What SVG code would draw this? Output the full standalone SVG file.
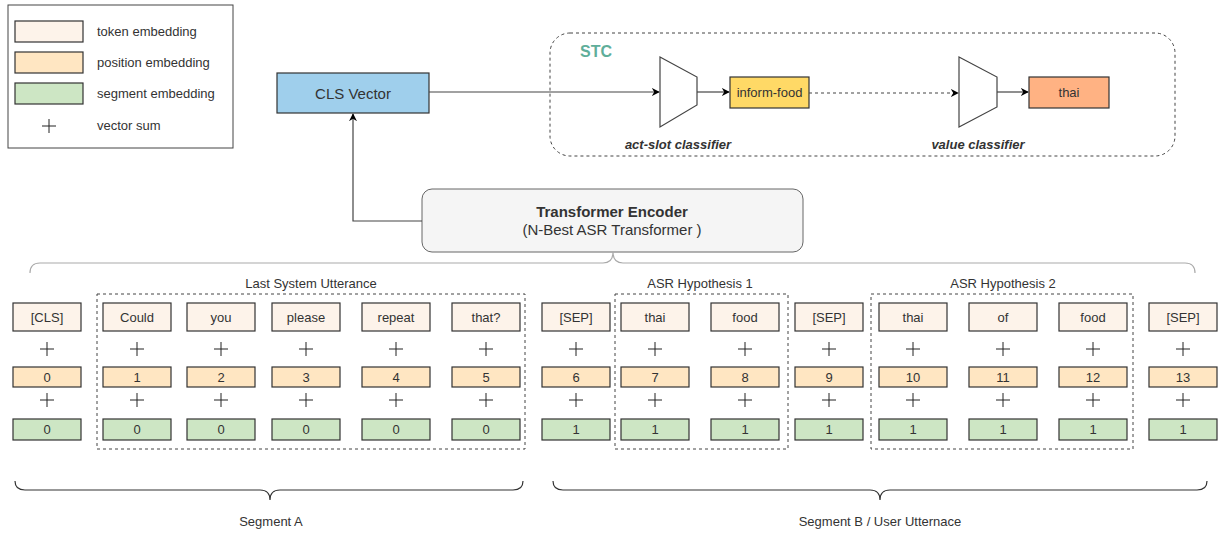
<svg xmlns="http://www.w3.org/2000/svg" width="1218" height="533" viewBox="0 0 1218 533">
<defs>
<marker id="arr" viewBox="0 0 10 10" refX="9" refY="5" markerWidth="8" markerHeight="8" orient="auto" markerUnits="userSpaceOnUse">
<path d="M0,0 L10,5 L0,10 L3,5 Z" fill="#000"/>
</marker>
<style>
text{font-family:"Liberation Sans",Arial,sans-serif;fill:#333;}
.t{font-size:13px;text-anchor:middle;}
.lg{font-size:13px;}
.tok{fill:#fdf3ea;stroke:#333;stroke-width:1.2;}
.pos{fill:#ffe6c2;stroke:#333;stroke-width:1.2;}
.seg{fill:#cde6c4;stroke:#333;stroke-width:1.2;}
.plus{stroke:#222;stroke-width:1;fill:none;}
.grp{fill:none;stroke:#444;stroke-width:1;stroke-dasharray:3,3;}
.conn{fill:none;stroke:#444;stroke-width:1.2;}
</style>
</defs>
<rect width="1218" height="533" fill="#fff"/>

<g id="legend">
<rect x="8" y="5" width="225" height="143" fill="#fff" stroke="#444" stroke-width="1"/>
<rect x="15" y="21" width="68" height="21" class="tok"/>
<rect x="15" y="52" width="68" height="21" class="pos"/>
<rect x="15" y="83" width="68" height="21" class="seg"/>
<path class="plus" d="M42,126 H56 M49,119 V133"/>
<text x="97" y="36" class="lg">token embedding</text>
<text x="97" y="67" class="lg">position embedding</text>
<text x="97" y="98" class="lg">segment embedding</text>
<text x="97" y="130" class="lg">vector sum</text>
</g>

<g id="stc">
<rect x="550" y="33" width="625" height="123" rx="20" ry="20" class="grp"/>
<text x="596" y="57" style="font-size:16px;font-weight:bold;fill:#5fae9a;text-anchor:middle">STC</text>
</g>

<g id="cls-vector">
<rect x="277" y="73" width="152" height="40" fill="#9fcfec" stroke="#333" stroke-width="1.2"/>
<text x="353" y="99" style="font-size:15px;text-anchor:middle">CLS Vector</text>
</g>

<g id="act-slot-classifier">
<polygon points="660,57 697,77 697,105 660,127" fill="#fff" stroke="#444" stroke-width="1.2"/>
<text x="678" y="149" style="font-size:13px;font-weight:bold;font-style:italic;text-anchor:middle">act-slot classifier</text>
</g>

<g id="inform-food">
<rect x="730" y="77" width="79" height="31" fill="#ffd966" stroke="#333" stroke-width="1.2"/>
<text x="769.5" y="97" class="t">inform-food</text>
</g>

<g id="value-classifier">
<polygon points="959,57 997,77 997,107 959,127" fill="#fff" stroke="#444" stroke-width="1.2"/>
<text x="978" y="149" style="font-size:13px;font-weight:bold;font-style:italic;text-anchor:middle">value classifier</text>
</g>

<g id="thai-out">
<rect x="1029" y="77" width="80" height="31" fill="#ffb283" stroke="#333" stroke-width="1.2"/>
<text x="1069" y="97" class="t">thai</text>
</g>

<g id="transformer-encoder">
<rect x="422" y="189" width="381" height="63" rx="10" ry="10" fill="#f5f5f5" stroke="#666" stroke-width="1"/>
<text x="612" y="217" style="font-size:15px;font-weight:bold;text-anchor:middle">Transformer Encoder</text>
<text x="612" y="235" style="font-size:15px;text-anchor:middle">(N-Best ASR Transformer )</text>
</g>

<g id="connectors">
<path class="conn" d="M429,92 H659" marker-end="url(#arr)"/>
<path class="conn" d="M697,92 H729" marker-end="url(#arr)"/>
<path class="conn" d="M809,93 H958" stroke-dasharray="3,3" marker-end="url(#arr)"/>
<path class="conn" d="M997,92 H1028" marker-end="url(#arr)"/>
<path class="conn" d="M422,221 H353 V114" marker-end="url(#arr)"/>
</g>

<g id="braces">
<path d="M30,273 Q30,263 40,263 L603,263 Q613,263 613,252 Q613,263 623,263 L1185,263 Q1195,263 1195,273" fill="none" stroke="#aaa" stroke-width="1.2"/>
<path d="M15,481 Q15,490 25,490 L260,490 Q270,490 270,500 Q270,490 280,490 L513,490 Q523,490 523,481" fill="none" stroke="#333" stroke-width="1.2"/>
<path d="M553,481 Q553,490 563,490 L870,490 Q880,490 880,500 Q880,490 890,490 L1197,490 Q1207,490 1207,481" fill="none" stroke="#333" stroke-width="1.2"/>
<text x="271" y="526" class="t">Segment A</text>
<text x="880" y="526" class="t">Segment B / User Utternace</text>
</g>

<g id="last-system-utterance">
<rect x="97" y="294" width="428" height="155" class="grp"/>
<text x="311" y="288" class="t">Last System Utterance</text>
</g>
<g id="asr-hyp-1">
<rect x="615" y="294" width="173" height="155" class="grp"/>
<text x="700" y="288" class="t">ASR Hypothesis 1</text>
</g>
<g id="asr-hyp-2">
<rect x="871" y="294" width="262" height="155" class="grp"/>
<text x="1003" y="288" class="t">ASR Hypothesis 2</text>
</g>

<g id="col-0"><rect x="13" y="303" width="68" height="28" class="tok"/><text x="47" y="322" class="t">[CLS]</text><path class="plus" d="M40,349 H54 M47,342 V356"/><rect x="13" y="367" width="68" height="20" class="pos"/><text x="47" y="382" class="t">0</text><path class="plus" d="M40,400 H54 M47,393 V407"/><rect x="13" y="419" width="68" height="21" class="seg"/><text x="47" y="434" class="t">0</text></g>
<g id="col-1"><rect x="103" y="303" width="68" height="28" class="tok"/><text x="137" y="322" class="t">Could</text><path class="plus" d="M130,349 H144 M137,342 V356"/><rect x="103" y="367" width="68" height="20" class="pos"/><text x="137" y="382" class="t">1</text><path class="plus" d="M130,400 H144 M137,393 V407"/><rect x="103" y="419" width="68" height="21" class="seg"/><text x="137" y="434" class="t">0</text></g>
<g id="col-2"><rect x="187" y="303" width="68" height="28" class="tok"/><text x="221" y="322" class="t">you</text><path class="plus" d="M214,349 H228 M221,342 V356"/><rect x="187" y="367" width="68" height="20" class="pos"/><text x="221" y="382" class="t">2</text><path class="plus" d="M214,400 H228 M221,393 V407"/><rect x="187" y="419" width="68" height="21" class="seg"/><text x="221" y="434" class="t">0</text></g>
<g id="col-3"><rect x="272" y="303" width="68" height="28" class="tok"/><text x="306" y="322" class="t">please</text><path class="plus" d="M299,349 H313 M306,342 V356"/><rect x="272" y="367" width="68" height="20" class="pos"/><text x="306" y="382" class="t">3</text><path class="plus" d="M299,400 H313 M306,393 V407"/><rect x="272" y="419" width="68" height="21" class="seg"/><text x="306" y="434" class="t">0</text></g>
<g id="col-4"><rect x="362" y="303" width="68" height="28" class="tok"/><text x="396" y="322" class="t">repeat</text><path class="plus" d="M389,349 H403 M396,342 V356"/><rect x="362" y="367" width="68" height="20" class="pos"/><text x="396" y="382" class="t">4</text><path class="plus" d="M389,400 H403 M396,393 V407"/><rect x="362" y="419" width="68" height="21" class="seg"/><text x="396" y="434" class="t">0</text></g>
<g id="col-5"><rect x="452" y="303" width="68" height="28" class="tok"/><text x="486" y="322" class="t">that?</text><path class="plus" d="M479,349 H493 M486,342 V356"/><rect x="452" y="367" width="68" height="20" class="pos"/><text x="486" y="382" class="t">5</text><path class="plus" d="M479,400 H493 M486,393 V407"/><rect x="452" y="419" width="68" height="21" class="seg"/><text x="486" y="434" class="t">0</text></g>
<g id="col-6"><rect x="542" y="303" width="68" height="28" class="tok"/><text x="576" y="322" class="t">[SEP]</text><path class="plus" d="M569,349 H583 M576,342 V356"/><rect x="542" y="367" width="68" height="20" class="pos"/><text x="576" y="382" class="t">6</text><path class="plus" d="M569,400 H583 M576,393 V407"/><rect x="542" y="419" width="68" height="21" class="seg"/><text x="576" y="434" class="t">1</text></g>
<g id="col-7"><rect x="621" y="303" width="68" height="28" class="tok"/><text x="655" y="322" class="t">thai</text><path class="plus" d="M648,349 H662 M655,342 V356"/><rect x="621" y="367" width="68" height="20" class="pos"/><text x="655" y="382" class="t">7</text><path class="plus" d="M648,400 H662 M655,393 V407"/><rect x="621" y="419" width="68" height="21" class="seg"/><text x="655" y="434" class="t">1</text></g>
<g id="col-8"><rect x="711" y="303" width="68" height="28" class="tok"/><text x="745" y="322" class="t">food</text><path class="plus" d="M738,349 H752 M745,342 V356"/><rect x="711" y="367" width="68" height="20" class="pos"/><text x="745" y="382" class="t">8</text><path class="plus" d="M738,400 H752 M745,393 V407"/><rect x="711" y="419" width="68" height="21" class="seg"/><text x="745" y="434" class="t">1</text></g>
<g id="col-9"><rect x="795" y="303" width="68" height="28" class="tok"/><text x="829" y="322" class="t">[SEP]</text><path class="plus" d="M822,349 H836 M829,342 V356"/><rect x="795" y="367" width="68" height="20" class="pos"/><text x="829" y="382" class="t">9</text><path class="plus" d="M822,400 H836 M829,393 V407"/><rect x="795" y="419" width="68" height="21" class="seg"/><text x="829" y="434" class="t">1</text></g>
<g id="col-10"><rect x="879" y="303" width="68" height="28" class="tok"/><text x="913" y="322" class="t">thai</text><path class="plus" d="M906,349 H920 M913,342 V356"/><rect x="879" y="367" width="68" height="20" class="pos"/><text x="913" y="382" class="t">10</text><path class="plus" d="M906,400 H920 M913,393 V407"/><rect x="879" y="419" width="68" height="21" class="seg"/><text x="913" y="434" class="t">1</text></g>
<g id="col-11"><rect x="969" y="303" width="68" height="28" class="tok"/><text x="1003" y="322" class="t">of</text><path class="plus" d="M996,349 H1010 M1003,342 V356"/><rect x="969" y="367" width="68" height="20" class="pos"/><text x="1003" y="382" class="t">11</text><path class="plus" d="M996,400 H1010 M1003,393 V407"/><rect x="969" y="419" width="68" height="21" class="seg"/><text x="1003" y="434" class="t">1</text></g>
<g id="col-12"><rect x="1059" y="303" width="68" height="28" class="tok"/><text x="1093" y="322" class="t">food</text><path class="plus" d="M1086,349 H1100 M1093,342 V356"/><rect x="1059" y="367" width="68" height="20" class="pos"/><text x="1093" y="382" class="t">12</text><path class="plus" d="M1086,400 H1100 M1093,393 V407"/><rect x="1059" y="419" width="68" height="21" class="seg"/><text x="1093" y="434" class="t">1</text></g>
<g id="col-13"><rect x="1149" y="303" width="68" height="28" class="tok"/><text x="1183" y="322" class="t">[SEP]</text><path class="plus" d="M1176,349 H1190 M1183,342 V356"/><rect x="1149" y="367" width="68" height="20" class="pos"/><text x="1183" y="382" class="t">13</text><path class="plus" d="M1176,400 H1190 M1183,393 V407"/><rect x="1149" y="419" width="68" height="21" class="seg"/><text x="1183" y="434" class="t">1</text></g>
</svg>
